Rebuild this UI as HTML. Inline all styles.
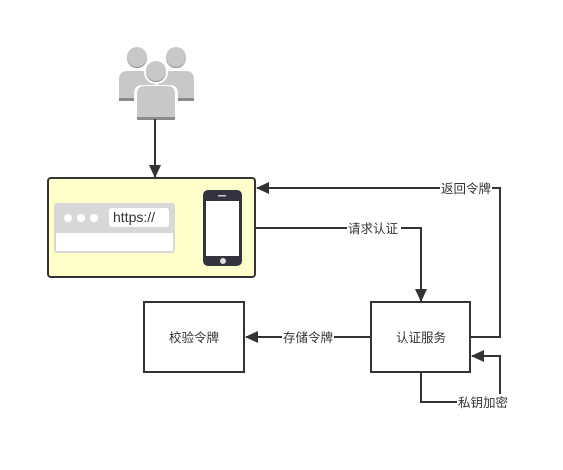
<!DOCTYPE html>
<html><head><meta charset="utf-8"><style>
html,body{margin:0;padding:0;background:#fff}
svg text{font-family:"Liberation Sans","Noto Sans CJK SC",sans-serif;font-size:12.5px;fill:#333}
</style></head><body>
<svg width="563" height="465" viewBox="0 0 563 465" xmlns="http://www.w3.org/2000/svg">
<defs><marker id="a" markerWidth="13" markerHeight="12" refX="12" refY="6" orient="auto" markerUnits="userSpaceOnUse"><path d="M0,0 L13,6 L0,12 Z" fill="#333"/></marker></defs>
<g fill="#c8c8c8">
<circle cx="137" cy="58" r="10" fill="#8a8a8a"/><circle cx="137" cy="57" r="10"/>
<circle cx="176" cy="58" r="10" fill="#8a8a8a"/><circle cx="176" cy="57" r="10"/>
<path d="M119,101 L119,82 Q119,74 127,73 L147,73 Q155,74 155,82 L155,101 Z" fill="#8a8a8a"/>
<path d="M119,98 L119,80 Q119,71 127,71 L147,71 Q155,71 155,80 L155,98 Z"/>
<path d="M158,101 L158,82 Q158,74 166,73 L186,73 Q194,74 194,82 L194,101 Z" fill="#8a8a8a"/>
<path d="M158,98 L158,80 Q158,71 166,71 L186,71 Q194,71 194,80 L194,98 Z"/>
<circle cx="156" cy="72" r="12" fill="#fff"/>
<path d="M134,120 L134,94 Q134,85 143,85 L169,85 Q178,85 178,94 L178,120 Z" fill="#fff"/>
<circle cx="156" cy="72" r="10" fill="#8a8a8a"/><circle cx="156" cy="71" r="10"/>
<path d="M137,120 L137,96 Q137,88 145,88 L167,88 Q175,88 175,96 L175,120 Z" fill="#8a8a8a"/>
<path d="M137,117 L137,94 Q137,86 145,86 L167,86 Q175,86 175,94 L175,117 Z"/>
</g>
<line x1="155" y1="119" x2="155" y2="177" stroke="#333" stroke-width="2" marker-end="url(#a)"/>
<rect x="48" y="178" width="207" height="99" rx="3" fill="#ffffcc" stroke="#333" stroke-width="2"/>
<rect x="54" y="203" width="121" height="50" rx="3" fill="#d8d8d8"/>
<rect x="56" y="233" width="117" height="18" fill="#fff"/>
<circle cx="68" cy="218" r="4" fill="#fff"/><circle cx="81" cy="218" r="4" fill="#fff"/><circle cx="94" cy="218" r="4" fill="#fff"/>
<rect x="109" y="208" width="60" height="19" rx="3" fill="#fff"/>
<text x="113" y="222" style="font-size:14px">https://</text>
<rect x="203" y="190" width="39" height="76" rx="5" fill="#333340"/>
<rect x="206" y="201" width="33" height="55" fill="#fff"/>
<rect x="218" y="195" width="8" height="1.5" fill="#ccc"/>
<circle cx="223" cy="261" r="3" fill="#ddd"/>
<rect x="144" y="302" width="100" height="70" fill="#fff" stroke="#333" stroke-width="2"/>
<text x="194" y="342" text-anchor="middle">校验令牌</text>
<rect x="371" y="302" width="99" height="70" fill="#fff" stroke="#333" stroke-width="2"/>
<text x="421" y="342" text-anchor="middle">认证服务</text>
<polyline points="471,337 500,337 500,188 257,188" fill="none" stroke="#333" stroke-width="2" marker-end="url(#a)"/>
<rect x="440" y="180" width="52" height="16" fill="#fff"/><text x="441" y="193">返回令牌</text>
<polyline points="256,228 421,228 421,301" fill="none" stroke="#333" stroke-width="2" marker-end="url(#a)"/>
<rect x="347" y="220" width="54" height="16" fill="#fff"/><text x="348" y="233">请求认证</text>
<line x1="371" y1="337" x2="246" y2="337" stroke="#333" stroke-width="2" marker-end="url(#a)"/>
<rect x="282" y="329" width="52" height="16" fill="#fff"/><text x="283" y="342">存储令牌</text>
<polyline points="421,373 421,402 500,402 500,356 472,356" fill="none" stroke="#333" stroke-width="2" marker-end="url(#a)"/>
<rect x="457" y="394" width="54" height="16" fill="#fff"/><text x="458" y="407">私钥加密</text>
</svg>
</body></html>
